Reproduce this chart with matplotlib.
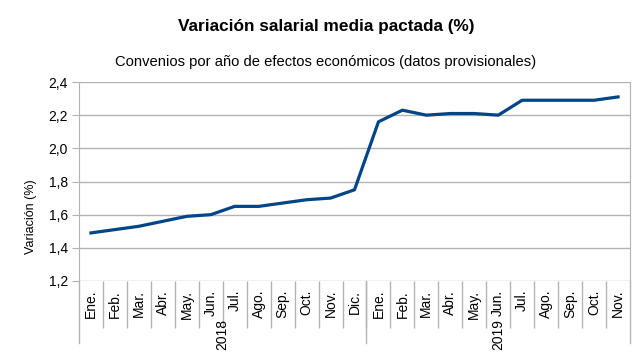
import matplotlib.pyplot as plt
from matplotlib.ticker import FuncFormatter, FixedLocator

plt.rcParams['font.family'] = ['Liberation Sans', 'DejaVu Sans']

# Data
months_2018 = ['Ene.', 'Feb.', 'Mar.', 'Abr.', 'May.', 'Jun.', 'Jul.', 'Ago.', 'Sep.', 'Oct.', 'Nov.', 'Dic.']
months_2019 = ['Ene.', 'Feb.', 'Mar.', 'Abr.', 'May.', 'Jun.', 'Jul.', 'Ago.', 'Sep.', 'Oct.', 'Nov.']
years = ['2018', '2019']
values_2018 = [1.49, 1.51, 1.53, 1.56, 1.59, 1.60, 1.65, 1.65, 1.67, 1.69, 1.70, 1.75]
values_2019 = [2.16, 2.23, 2.20, 2.21, 2.21, 2.20, 2.29, 2.29, 2.29, 2.29, 2.31]

labels = months_2018 + months_2019
values = values_2018 + values_2019
x = list(range(len(values)))
n = len(values)

fig = plt.figure(figsize=(6.43, 3.61), dpi=100)
ax = fig.add_axes([79 / 643, 1 - 281 / 361, 551 / 643, 199 / 361])

ax.plot(x, values, color='#004586', linewidth=2.3, solid_joinstyle='round')

ax.set_xlim(-0.5, n - 0.5)
ax.set_ylim(1.2, 2.4)
ax.set_yticks([1.2, 1.4, 1.6, 1.8, 2.0, 2.2, 2.4])
ax.yaxis.set_major_formatter(FuncFormatter(lambda v, p: f'{v:.1f}'.replace('.', ',')))
ax.tick_params(axis='y', length=5, color='#b3b3b3', labelsize=10, pad=3)
ax.grid(axis='y', color='#b3b3b3', linewidth=1)
ax.set_axisbelow(True)

for s in ['top', 'bottom']:
    ax.spines[s].set_visible(False)
for s in ['left', 'right']:
    ax.spines[s].set_color('#b3b3b3')

# x ticks: boundaries between categories
ax.xaxis.set_major_locator(FixedLocator([i - 0.5 for i in range(1, n)]))
ax.set_xticklabels([])
ax.tick_params(axis='x', length=34, color='#b3b3b3', width=1)

trans = ax.get_xaxis_transform()
for i, lab in enumerate(labels):
    ax.text(i, -0.045, lab, rotation=90, ha='center', va='top', fontsize=10, transform=trans)

# year separators
for b in [-0.5, len(months_2018) - 0.5, n - 0.5]:
    ax.plot([b, b], [0, -0.31], color='#b3b3b3', linewidth=1, transform=trans, clip_on=False)

ax.text((len(months_2018) - 1) / 2, -0.19, years[0], rotation=90, ha='center', va='top', fontsize=10, transform=trans)
ax.text(len(months_2018) + (len(months_2019) - 1) / 2, -0.19, years[1], rotation=90, ha='center', va='top', fontsize=10, transform=trans)

fig.text(31 / 643, 1 - 217 / 361, 'Variación (%)', rotation=90, ha='center', va='center', fontsize=9)

fig.text(0.507, 1 - 27 / 361, 'Variación salarial media pactada (%)', ha='center', va='center', fontsize=12.4, fontweight='bold')
fig.text(0.507, 1 - 62 / 361, 'Convenios por año de efectos económicos (datos provisionales)', ha='center', va='center', fontsize=10.6)

fig.savefig('out.png', dpi=100)
